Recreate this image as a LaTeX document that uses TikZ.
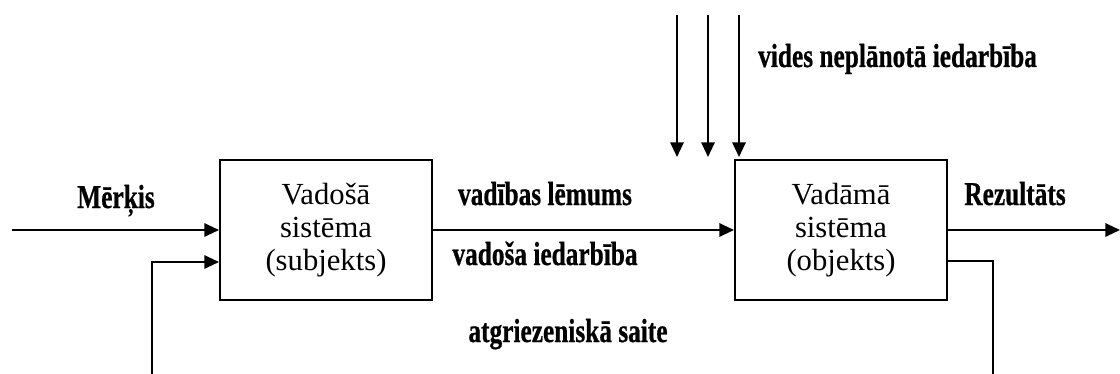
\documentclass[tikz,border=0pt]{standalone}
\usepackage{fontspec}
\setmainfont{Liberation Serif}
\newfontfamily\heavyserif[FakeBold=0.8]{Liberation Serif Bold}
\usetikzlibrary{arrows.meta}
\begin{document}
\begin{tikzpicture}[x=0.75pt,y=-0.75pt,
  wire/.style={line width=1.5pt},
  arr/.style={wire, -{Triangle[length=11pt,width=10pt]}},
  block/.style={draw, line width=1.5pt, minimum width=159pt, minimum height=105pt,
    align=center, inner sep=0pt, font=\fontsize{23}{24.5}\selectfont},
  lbl/.style={font=\fontsize{25}{26}\heavyserif, xscale=0.76, anchor=base, inner sep=0pt}]
\useasboundingbox (0,0) rectangle (1120,374);

% the two systems
\node[block] (sub) at (326,230) {Vadošā\\sistēma\\(subjekts)};
\node[block] (obj) at (841,230) {Vadāmā\\sistēma\\(objekts)};

% free ends of the connectors
\coordinate (goal) at (12,230);
\coordinate (res) at (1120,230);
\coordinate (fbL) at (152,374);
\coordinate (fbR) at (993,374);
\coordinate (e1a) at (677,15);  \coordinate (e1b) at (677,157);
\coordinate (e2a) at (708,15);  \coordinate (e2b) at (708,157);
\coordinate (e3a) at (739,15);  \coordinate (e3b) at (739,157);

% main flow
\draw[arr] (goal) -- (sub.west |- goal);
\draw[arr] (sub.east |- goal) -- (obj.west |- goal);
\draw[arr] (obj.east |- res) -- (res);

% feedback
\draw[wire] (obj.east |- 0,261) -- (fbR |- 0,261) -- (fbR);
\draw[arr] (fbL) -- (fbL |- 0,262) -- (sub.west |- 0,262);

% environment disturbances
\draw[arr] (e1a) -- (e1b);
\draw[arr] (e2a) -- (e2b);
\draw[arr] (e3a) -- (e3b);

% labels
\node[lbl] (lgoal) at (116,208) {Mērķis};
\node[lbl] (ldec) at (545,205) {vadības lēmums};
\node[lbl] (lact) at (545,265) {vadoša iedarbība};
\node[lbl] (lres) at (1015,205) {Rezultāts};
\node[lbl] (lfb) at (568,342) {atgriezeniskā saite};
\node[lbl, anchor=base west] (lenv) at (758,67) {vides neplānotā iedarbība};
\end{tikzpicture}
\end{document}
